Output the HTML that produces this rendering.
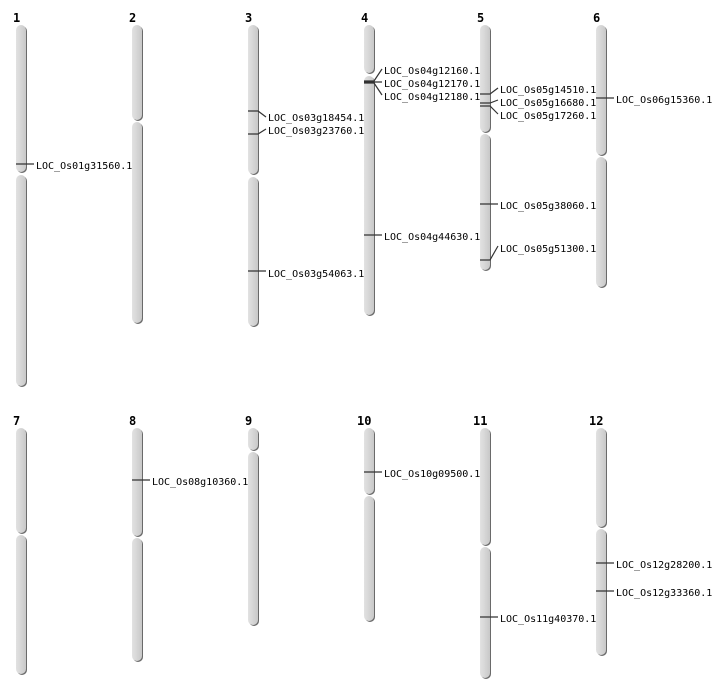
<!DOCTYPE html>
<html><head><meta charset="utf-8"><style>
html,body{margin:0;padding:0;background:#fff;}
svg{display:block;}
.n{font-family:"DejaVu Sans Mono","Liberation Mono",monospace;font-weight:bold;font-size:12px;fill:#000;}
.l{font-family:"DejaVu Sans Mono","Liberation Mono",monospace;font-size:10px;fill:#000;}
.s{fill:#6a6a6a;}
.c{fill:#d4d4d4;}
.m{stroke:#333;stroke-width:1.2;fill:none;}
</style></head><body>
<svg width="712" height="700" viewBox="0 0 712 700" xmlns="http://www.w3.org/2000/svg">
<defs>
<linearGradient id="g" x1="0" x2="1" y1="0" y2="0">
<stop offset="0" stop-color="#e2e2e2"/><stop offset="0.5" stop-color="#d6d6d6"/><stop offset="1" stop-color="#c8c8c8"/>
</linearGradient>
</defs>
<g id="chrs">
<!-- helper: each segment shadow + fill -->
<!-- Chr1 L=16 -->
<rect class="s" x="17" y="26" width="10" height="147" rx="5"/><rect fill="url(#g)" x="16" y="25" width="10" height="147" rx="5"/>
<rect class="s" x="17" y="176" width="10" height="211" rx="5"/><rect fill="url(#g)" x="16" y="175" width="10" height="211" rx="5"/>
<!-- Chr2 L=132 -->
<rect class="s" x="133" y="26" width="10" height="95" rx="5"/><rect fill="url(#g)" x="132" y="25" width="10" height="95" rx="5"/>
<rect class="s" x="133" y="123" width="10" height="201" rx="5"/><rect fill="url(#g)" x="132" y="122" width="10" height="201" rx="5"/>
<!-- Chr3 L=248 -->
<rect class="s" x="249" y="26" width="10" height="149" rx="5"/><rect fill="url(#g)" x="248" y="25" width="10" height="149" rx="5"/>
<rect class="s" x="249" y="178" width="10" height="149" rx="5"/><rect fill="url(#g)" x="248" y="177" width="10" height="149" rx="5"/>
<!-- Chr4 L=364 -->
<rect class="s" x="365" y="26" width="10" height="48" rx="5"/><rect fill="url(#g)" x="364" y="25" width="10" height="48" rx="5"/>
<rect class="s" x="365" y="77" width="10" height="239" rx="5"/><rect fill="url(#g)" x="364" y="76" width="10" height="239" rx="5"/>
<!-- Chr5 L=480 -->
<rect class="s" x="481" y="26" width="10" height="107" rx="5"/><rect fill="url(#g)" x="480" y="25" width="10" height="107" rx="5"/>
<rect class="s" x="481" y="135" width="10" height="136" rx="5"/><rect fill="url(#g)" x="480" y="134" width="10" height="136" rx="5"/>
<!-- Chr6 L=596 -->
<rect class="s" x="597" y="26" width="10" height="130" rx="5"/><rect fill="url(#g)" x="596" y="25" width="10" height="130" rx="5"/>
<rect class="s" x="597" y="158" width="10" height="130" rx="5"/><rect fill="url(#g)" x="596" y="157" width="10" height="130" rx="5"/>
<!-- Chr7 -->
<rect class="s" x="17" y="429" width="10" height="105" rx="5"/><rect fill="url(#g)" x="16" y="428" width="10" height="105" rx="5"/>
<rect class="s" x="17" y="536" width="10" height="139" rx="5"/><rect fill="url(#g)" x="16" y="535" width="10" height="139" rx="5"/>
<!-- Chr8 -->
<rect class="s" x="133" y="429" width="10" height="108" rx="5"/><rect fill="url(#g)" x="132" y="428" width="10" height="108" rx="5"/>
<rect class="s" x="133" y="539" width="10" height="123" rx="5"/><rect fill="url(#g)" x="132" y="538" width="10" height="123" rx="5"/>
<!-- Chr9 -->
<rect class="s" x="249" y="429" width="10" height="22" rx="5"/><rect fill="url(#g)" x="248" y="428" width="10" height="22" rx="5"/>
<rect class="s" x="249" y="453" width="10" height="173" rx="5"/><rect fill="url(#g)" x="248" y="452" width="10" height="173" rx="5"/>
<!-- Chr10 -->
<rect class="s" x="365" y="429" width="10" height="66" rx="5"/><rect fill="url(#g)" x="364" y="428" width="10" height="66" rx="5"/>
<rect class="s" x="365" y="497" width="10" height="125" rx="5"/><rect fill="url(#g)" x="364" y="496" width="10" height="125" rx="5"/>
<!-- Chr11 -->
<rect class="s" x="481" y="429" width="10" height="117" rx="5"/><rect fill="url(#g)" x="480" y="428" width="10" height="117" rx="5"/>
<rect class="s" x="481" y="548" width="10" height="131" rx="5"/><rect fill="url(#g)" x="480" y="547" width="10" height="131" rx="5"/>
<!-- Chr12 -->
<rect class="s" x="597" y="429" width="10" height="99" rx="5"/><rect fill="url(#g)" x="596" y="428" width="10" height="99" rx="5"/>
<rect class="s" x="597" y="530" width="10" height="126" rx="5"/><rect fill="url(#g)" x="596" y="529" width="10" height="126" rx="5"/>
</g>
<g>
<text class="n" x="13" y="22">1</text><text class="n" x="129" y="22">2</text><text class="n" x="245" y="22">3</text><text class="n" x="361" y="22">4</text><text class="n" x="477" y="22">5</text><text class="n" x="593" y="22">6</text>
<text class="n" x="13" y="425">7</text><text class="n" x="129" y="425">8</text><text class="n" x="245" y="425">9</text><text class="n" x="357" y="425">10</text><text class="n" x="473" y="425">11</text><text class="n" x="589" y="425">12</text>
</g>
<g class="m">
<path d="M16 164H34"/>
<path d="M248 111H258L266 117"/><path d="M248 134H258L266 129"/><path d="M248 271H266"/>
<path d="M364 81H374L382 69"/><path d="M364 82H382"/><path d="M364 83H374L382 95"/><path d="M364 235H382"/>
<path d="M480 94H490L498 88"/><path d="M480 103H490L498 100"/><path d="M480 106H490L498 114"/><path d="M480 204H498"/><path d="M480 260H490L498 246"/>
<path d="M596 98H614"/>
<path d="M132 480H150"/><path d="M364 472H382"/><path d="M480 617H498"/><path d="M596 563H614"/><path d="M596 591H614"/>
</g>
<g class="l">
<text x="36" y="169">LOC_Os01g31560.1</text>
<text x="268" y="121">LOC_Os03g18454.1</text>
<text x="268" y="134">LOC_Os03g23760.1</text>
<text x="268" y="277">LOC_Os03g54063.1</text>
<text x="384" y="74">LOC_Os04g12160.1</text>
<text x="384" y="87">LOC_Os04g12170.1</text>
<text x="384" y="100">LOC_Os04g12180.1</text>
<text x="384" y="240">LOC_Os04g44630.1</text>
<text x="500" y="93">LOC_Os05g14510.1</text>
<text x="500" y="106">LOC_Os05g16680.1</text>
<text x="500" y="119">LOC_Os05g17260.1</text>
<text x="500" y="209">LOC_Os05g38060.1</text>
<text x="500" y="252">LOC_Os05g51300.1</text>
<text x="616" y="103">LOC_Os06g15360.1</text>
<text x="152" y="485">LOC_Os08g10360.1</text>
<text x="384" y="477">LOC_Os10g09500.1</text>
<text x="500" y="622">LOC_Os11g40370.1</text>
<text x="616" y="568">LOC_Os12g28200.1</text>
<text x="616" y="596">LOC_Os12g33360.1</text>
</g>
</svg>
</body></html>
